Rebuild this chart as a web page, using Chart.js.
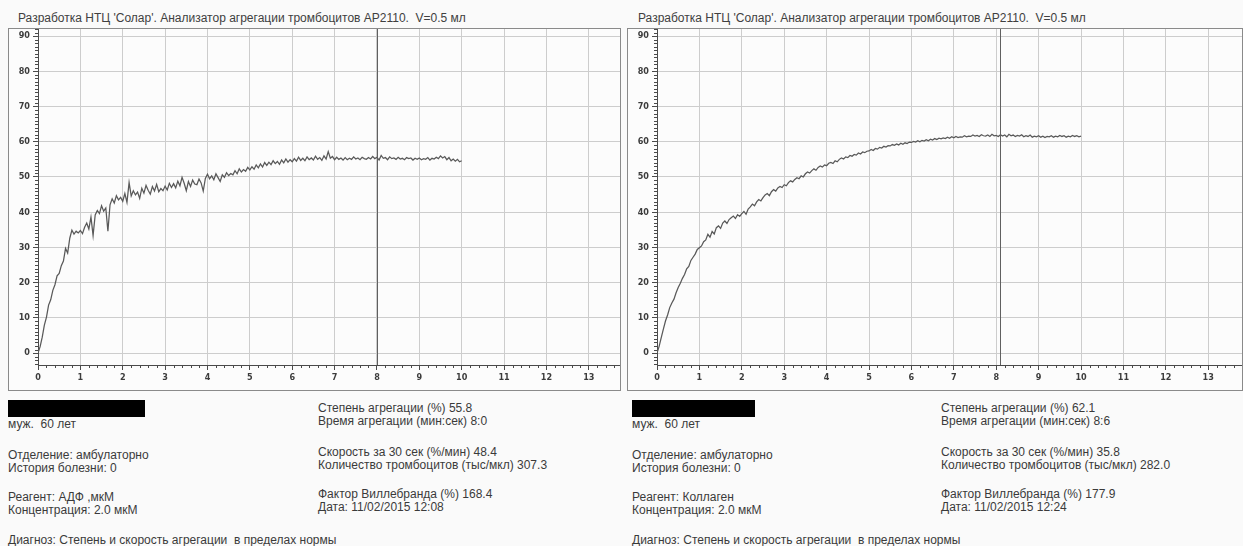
<!DOCTYPE html>
<html lang="ru">
<head>
<meta charset="utf-8">
<title>АР2110 — агрегация тромбоцитов</title>
<script src="https://cdn.jsdelivr.net/npm/chart.js@4.4.1/dist/chart.umd.min.js"></script>
<style>
  html, body { margin: 0; padding: 0; }
  body {
    width: 1243px; height: 546px; position: relative; overflow: hidden;
    background: #fafafa; font-family: Arial, 'Liberation Sans', sans-serif;
    color: #3a3a3a;
  }
  canvas { position: absolute; }
  .t { position: absolute; font-size: 12px; line-height: 14px; white-space: pre; }
  .title { position: absolute; font-size: 12px; line-height: 14px; white-space: pre; color: #404040; }
  .mask { position: absolute; background: #000; }
</style>
</head>
<body>

<div class="title" style="left:18px; top:11px;">Разработка НТЦ 'Солар'. Анализатор агрегации тромбоцитов АР2110.  V=0.5 мл</div>
<div class="title" style="left:638px; top:11px;">Разработка НТЦ 'Солар'. Анализатор агрегации тромбоцитов АР2110.  V=0.5 мл</div>

<canvas id="chartAdp" width="613" height="363" style="left:8px; top:28px;"></canvas>
<canvas id="chartCollagen" width="616" height="363" style="left:627px; top:28px;"></canvas>

<!-- patient / test report, ADP -->
<div class="mask" style="left:8px; top:400px; width:137px; height:17px;"></div>
<div class="t" style="left:8px; top:417px;">муж.  60 лет</div>
<div class="t" style="left:8px; top:448px;">Отделение: амбулаторно</div>
<div class="t" style="left:8px; top:461px;">История болезни: 0</div>
<div class="t" style="left:8px; top:490px;">Реагент: АДФ ,мкМ</div>
<div class="t" style="left:8px; top:503px;">Концентрация: 2.0 мкМ</div>
<div class="t" style="left:8px; top:533px;">Диагноз: Степень и скорость агрегации  в пределах нормы</div>
<div class="t" style="left:318px; top:401px;">Степень агрегации (%) 55.8</div>
<div class="t" style="left:318px; top:414px;">Время агрегации (мин:сек) 8:0</div>
<div class="t" style="left:318px; top:445px;">Скорость за 30 сек (%/мин) 48.4</div>
<div class="t" style="left:318px; top:458px;">Количество тромбоцитов (тыс/мкл) 307.3</div>
<div class="t" style="left:318px; top:487px;">Фактор Виллебранда (%) 168.4</div>
<div class="t" style="left:318px; top:500px;">Дата: 11/02/2015 12:08</div>

<!-- patient / test report, collagen -->
<div class="mask" style="left:632px; top:400px; width:123px; height:17px;"></div>
<div class="t" style="left:632px; top:417px;">муж.  60 лет</div>
<div class="t" style="left:632px; top:448px;">Отделение: амбулаторно</div>
<div class="t" style="left:632px; top:461px;">История болезни: 0</div>
<div class="t" style="left:632px; top:490px;">Реагент: Коллаген</div>
<div class="t" style="left:632px; top:503px;">Концентрация: 2.0 мкМ</div>
<div class="t" style="left:632px; top:533px;">Диагноз: Степень и скорость агрегации  в пределах нормы</div>
<div class="t" style="left:941px; top:401px;">Степень агрегации (%) 62.1</div>
<div class="t" style="left:941px; top:414px;">Время агрегации (мин:сек) 8:6</div>
<div class="t" style="left:941px; top:445px;">Скорость за 30 сек (%/мин) 35.8</div>
<div class="t" style="left:941px; top:458px;">Количество тромбоцитов (тыс/мкл) 282.0</div>
<div class="t" style="left:941px; top:487px;">Фактор Виллебранда (%) 177.9</div>
<div class="t" style="left:941px; top:500px;">Дата: 11/02/2015 12:24</div>

<script>
// Recorder samples every 0.05 min; one row per minute of recording.
const sampleStep = 0.05;

// Aggregation, % — ADP 2.0 µM
const adpTrace = [
  0.0, 1.8, 4.5, 7.9, 10.2, 13.6, 15.1, 17.8, 19.4, 21.9, 22.6, 24.8, 26.1, 29.7, 28.4, 32.6, 34.9, 33.8, 34.6, 34.1,
  34.8, 33.9, 35.7, 36.9, 35.2, 38.6, 33.4, 39.2, 40.5, 39.6, 41.8, 40.3, 41.2, 34.6, 42.1, 43.8, 42.6, 44.7, 43.5, 44.2,
  43.1, 45.3, 42.8, 48.4, 44.6, 46.1, 44.9, 45.7, 43.9, 46.8, 45.4, 47.6, 46.2, 45.1, 47.3, 46.0, 47.9, 45.8, 46.7, 46.1,
  47.4, 46.3, 48.2, 47.0, 48.1, 46.9, 48.8, 47.5, 49.9, 48.2, 46.1, 48.7, 47.3, 49.1, 48.0, 47.8, 49.4, 48.3, 46.0, 49.6,
  50.8, 49.5, 50.3, 49.2, 50.9, 49.8, 48.7, 50.6, 49.9, 51.2, 50.4, 51.0, 50.6, 51.8, 50.9, 52.3, 51.4, 52.1, 51.6, 52.7,
  52.0, 52.9, 52.2, 53.4, 52.6, 53.7, 52.8, 54.1, 53.3, 54.2, 53.5, 54.6, 53.8, 54.4, 53.6, 54.8, 54.0, 55.1, 54.2, 54.9,
  54.3, 55.2, 54.5, 55.6, 54.7, 55.3, 54.6, 55.7, 54.9, 55.4, 54.8, 55.9, 55.0, 55.5, 54.7, 56.0, 55.1, 57.2, 55.3, 55.8,
  54.9, 55.6, 55.0, 55.4, 54.8, 55.5, 54.9, 55.3, 55.0, 55.7, 55.1, 55.4, 54.9, 55.6, 55.2, 55.0, 55.5, 55.1, 55.8, 55.2,
  55.6, 54.8, 56.1, 55.3, 55.5, 54.9, 55.7, 55.2, 55.4, 55.0, 55.6, 55.1, 55.3, 54.9, 55.5, 55.2, 55.4, 54.8, 55.3, 55.0,
  55.4, 54.9, 55.2, 55.0, 55.5, 54.8, 55.3, 55.1, 55.6, 55.2, 56.0, 55.4, 55.8, 54.9, 55.5, 54.6, 55.1, 54.5, 55.0, 54.3,
  54.6
];

// Aggregation, % — collagen 2.0 µM
const collagenTrace = [
  0.0, 1.9, 4.4, 6.8, 9.1, 10.8, 12.9, 14.2, 15.3, 17.1, 18.6, 19.8, 21.2, 22.3, 23.9, 24.6, 26.3, 27.2, 28.1, 29.4,
  29.9, 30.4, 31.6, 32.1, 33.7, 32.9, 34.5, 33.8, 35.6, 36.1, 35.4, 36.9, 37.5, 36.8, 37.9, 38.4, 38.9, 38.2, 39.3, 38.8,
  39.6, 40.2, 39.4, 40.9, 41.5, 42.3, 41.8, 42.9, 43.6, 43.2, 44.1, 44.9, 45.3, 44.7, 45.8, 46.4, 46.0, 46.9, 47.3, 47.0,
  47.8, 47.5, 48.4, 48.9, 48.6, 49.3, 49.8, 49.5, 50.3, 50.0, 50.9, 51.4, 51.1, 51.8, 52.3, 51.9, 52.7, 53.1, 52.8, 53.4,
  53.2, 53.9, 54.1, 53.8, 54.6, 54.3, 55.0, 55.4, 55.1, 55.7, 55.5, 56.1, 55.9, 56.4, 56.2, 56.8, 56.5, 57.1, 56.9, 57.3,
  57.4, 57.8, 57.5, 58.1, 57.9, 58.4, 58.2, 58.7, 58.5, 58.9, 58.8, 59.2, 59.0, 59.4, 59.1, 59.6, 59.3, 59.7, 59.5, 59.9,
  59.8, 60.1, 59.9, 60.3, 60.0, 60.4, 60.2, 60.6, 60.3, 60.7, 60.5, 60.9, 60.6, 61.0, 60.8, 61.1, 60.9, 61.3, 61.0, 61.4,
  61.1, 61.5, 61.2, 61.4, 61.3, 61.7, 61.4, 61.6, 61.5, 61.9, 61.6, 61.8, 61.5, 62.0, 61.7, 61.6, 61.9, 61.5, 62.1, 61.7,
  61.8, 61.5, 62.0, 61.6, 61.9, 61.4, 62.1, 61.7, 61.9, 61.5, 61.8, 61.6, 62.0, 61.4, 61.7, 61.5, 61.9, 61.3, 61.6, 61.4,
  61.7, 61.3, 61.6, 61.2, 61.5, 61.4, 61.7, 61.3, 61.6, 61.4, 61.8, 61.5, 61.7, 61.3, 61.6, 61.4, 61.8, 61.5, 61.7, 61.4,
  61.6
];

// Axis ticks (minutes / %)
const timeTicks = [0, 1, 2, 3, 4, 5, 6, 7, 8, 9, 10, 11, 12, 13];
const percentTicks = [0, 10, 20, 30, 40, 50, 60, 70, 80, 90];

// Cursor position, minutes
const adpCursor = 8.0;
const collagenCursor = 8.1;

const Y_MIN = -3.4;
const Y_MAX = 92.3;

const AXIS = '#4a4a4a';
const GRID = '#cdcdcd';
const TRACE = '#595959';
const tickFont = { family: "'Liberation Sans Narrow', 'DejaVu Sans Condensed', Arial", size: 9, weight: 'bold' };

function toPoints(values) {
  return values.map((v, i) => ({ x: Math.round(i * sampleStep * 100) / 100, y: v }));
}

// panel frame, cursor line and the small in-between ticks of the recorder
const recorderPlugin = {
  id: 'recorder',
  beforeDraw(chart) {
    const { ctx, width, height } = chart;
    ctx.save();
    ctx.fillStyle = '#fcfcfc';
    ctx.fillRect(0, 0, width, height);
    ctx.restore();
  },
  afterDraw(chart, args, opts) {
    const { ctx, width, height, chartArea } = chart;
    const xs = chart.scales.x, ys = chart.scales.y;
    ctx.save();

    // minor ticks
    ctx.strokeStyle = AXIS;
    ctx.lineWidth = 1;
    ctx.beginPath();
    for (let v = -3; v <= 92; v++) {
      if (v % 10 === 0) continue;
      const py = Math.round(ys.getPixelForValue(v)) + 0.5;
      ctx.moveTo(chartArea.left - 3, py);
      ctx.lineTo(chartArea.left, py);
    }
    for (let k = 1; k <= 69; k++) {
      if (k % 5 === 0) continue;
      const px = Math.round(xs.getPixelForValue(k / 5)) + 0.5;
      if (px > chartArea.right) break;
      ctx.moveTo(px, chartArea.bottom);
      ctx.lineTo(px, chartArea.bottom + 3);
    }
    ctx.stroke();

    // cursor
    const cx = Math.round(xs.getPixelForValue(opts.cursor)) + 0.5;
    ctx.strokeStyle = '#606060';
    ctx.lineWidth = 1;
    ctx.beginPath();
    ctx.moveTo(cx, chartArea.top);
    ctx.lineTo(cx, chartArea.bottom);
    ctx.stroke();

    // frame
    ctx.strokeStyle = '#8a8a8a';
    ctx.lineWidth = 1;
    ctx.strokeRect(0.5, 0.5, width - 1, height - 1);
    ctx.restore();
  }
};

function makePanel(canvasId, trace, cursor, xMax) {
  return new Chart(document.getElementById(canvasId), {
    type: 'line',
    data: {
      datasets: [{
        data: toPoints(trace),
        borderColor: TRACE,
        borderWidth: 1.25,
        pointRadius: 0,
        tension: 0,
        fill: false,
      }],
    },
    options: {
      responsive: false,
      animation: false,
      devicePixelRatio: 1,
      layout: { padding: 0 },
      plugins: {
        legend: { display: false },
        tooltip: { enabled: false },
        recorder: { cursor },
      },
      scales: {
        x: {
          type: 'linear',
          min: 0,
          max: xMax,
          afterBuildTicks: s => { s.ticks = timeTicks.map(value => ({ value })); },
          afterFit: s => { s.height = 26; s.paddingLeft = 0; s.paddingRight = 0; },
          grid: { color: GRID, lineWidth: 1, tickLength: 5, tickColor: AXIS, drawTicks: true },
          border: { display: true, color: AXIS, width: 1 },
          ticks: { color: '#3c3c3c', font: tickFont, padding: 2, maxRotation: 0, autoSkip: false },
        },
        y: {
          type: 'linear',
          min: Y_MIN,
          max: Y_MAX,
          afterBuildTicks: s => { s.ticks = percentTicks.map(value => ({ value })); },
          afterFit: s => { s.width = 30; s.paddingTop = 0; s.paddingBottom = 0; },
          grid: { color: GRID, lineWidth: 1, tickLength: 5, tickColor: AXIS, drawTicks: true },
          border: { display: true, color: AXIS, width: 1 },
          ticks: { color: '#3c3c3c', font: tickFont, padding: 3, autoSkip: false },
        },
      },
    },
    plugins: [recorderPlugin],
  });
}

makePanel('chartAdp', adpTrace, adpCursor, 13.76);
makePanel('chartCollagen', collagenTrace, collagenCursor, 13.82);
</script>
</body>
</html>
